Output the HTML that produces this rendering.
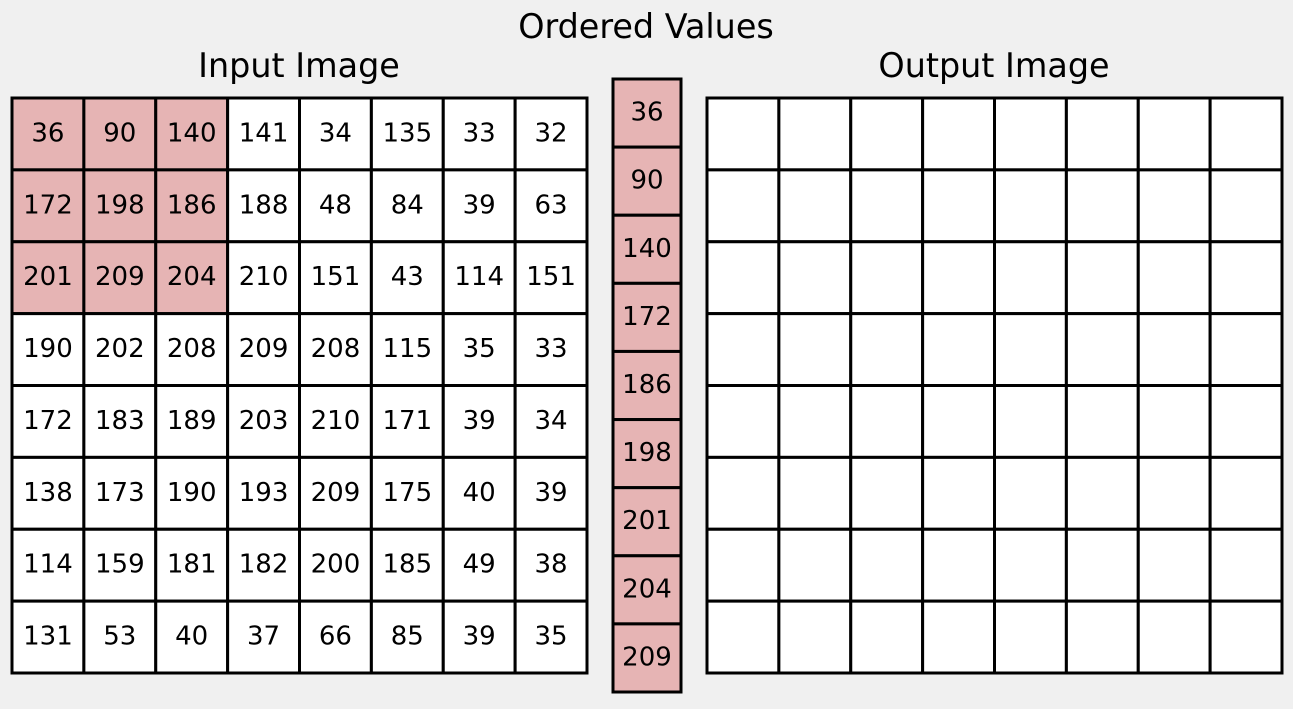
<!DOCTYPE html>
<html><head><style>html,body{margin:0;padding:0;background:#f0f0f0;}</style></head>
<body>
<svg width="1293" height="704" xmlns="http://www.w3.org/2000/svg" font-family="DejaVu Sans, sans-serif">
<rect width="1293" height="704" fill="#f0f0f0"/>
<g font-size="33.4" text-anchor="middle" fill="#000">
<text x="646" y="38">Ordered Values</text>
<text x="299" y="77">Input Image</text>
<text x="994" y="77">Output Image</text>
</g>
<g id="cells" stroke="#000" stroke-width="3" font-size="26" text-anchor="middle"></g>
</svg>
<script>
const g=document.getElementById('cells');
const vals=[[36,90,140,141,34,135,33,32],[172,198,186,188,48,84,39,63],[201,209,204,210,151,43,114,151],[190,202,208,209,208,115,35,33],[172,183,189,203,210,171,39,34],[138,173,190,193,209,175,40,39],[114,159,181,182,200,185,49,38],[131,53,40,37,66,85,39,35]];
const ns='http://www.w3.org/2000/svg';
function cell(x,y,w,h,fill,t){const r=document.createElementNS(ns,'rect');r.setAttribute('x',x);r.setAttribute('y',y);r.setAttribute('width',w);r.setAttribute('height',h);r.setAttribute('fill',fill);g.appendChild(r);
if(t!==undefined){const tx=document.createElementNS(ns,'text');tx.setAttribute('x',x+w/2);tx.setAttribute('y',y+h/2+7.5);tx.setAttribute('stroke','none');tx.setAttribute('fill','#000');tx.textContent=t;g.appendChild(tx);}}
const cw=71.875;
for(let r=0;r<8;r++)for(let c=0;c<8;c++){
cell(12+c*cw,98+r*cw,cw,cw,(r<3&&c<3)?'#e6b4b4':'#fff',vals[r][c]);
cell(707+c*cw,98+r*cw,cw,cw,'#fff');}
const ord=[36,90,140,172,186,198,201,204,209];const ch=(692-79)/9;
ord.forEach((v,i)=>cell(613,79+i*ch,68,ch,'#e6b4b4',v));
</script>
</body></html>
